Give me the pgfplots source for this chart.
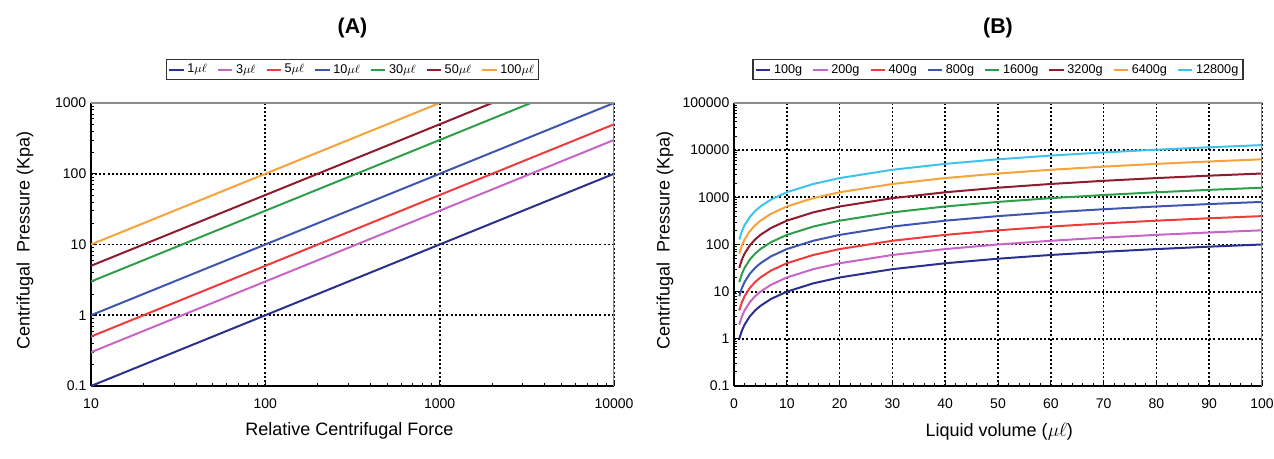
\documentclass[border=0pt]{standalone}
\usepackage{pgfplots}
\pgfplotsset{compat=1.18}
\usepackage{pgfplotstable}
\usepackage{fontspec}
\setmainfont{Liberation Sans}
\definecolor{cnavy}{HTML}{2B2F8E}
\definecolor{cpink}{HTML}{C964C7}
\definecolor{cred}{HTML}{EE3B3B}
\definecolor{cblue}{HTML}{3F56B0}
\definecolor{cgreen}{HTML}{2E9E4A}
\definecolor{cdred}{HTML}{8E1B2E}
\definecolor{corange}{HTML}{F7A23B}
\definecolor{ccyan}{HTML}{3EC3F0}

% panel B: pressure (kPa) against liquid volume, one column per g
\pgfplotstableread{
V    g100 g200 g400 g800 g1600 g3200 g6400 g12800
1    1    2    4    8    16    32    64    128
1.5  1.5  3    6    12   24    48    96    192
2    2    4    8    16   32    64    128   256
3    3    6    12   24   48    96    192   384
4    4    8    16   32   64    128   256   512
5    5    10   20   40   80    160   320   640
7    7    14   28   56   112   224   448   896
10   10   20   40   80   160   320   640   1280
15   15   30   60   120  240   480   960   1920
20   20   40   80   160  320   640   1280  2560
30   30   60   120  240  480   960   1920  3840
40   40   80   160  320  640   1280  2560  5120
50   50   100  200  400  800   1600  3200  6400
60   60   120  240  480  960   1920  3840  7680
70   70   140  280  560  1120  2240  4480  8960
80   80   160  320  640  1280  2560  5120  10240
90   90   180  360  720  1440  2880  5760  11520
100  100  200  400  800  1600  3200  6400  12800
}\tabB

\pgfplotsset{
  panel/.style={scale only axis, height=212.25pt,
    axis x line*=bottom, axis y line*=left,
    axis line style={black, line width=1.2pt},
    tick align=inside, major tick length=3pt, minor tick length=2.2pt,
    every tick/.style={black, line width=0.6pt},
    grid=major, major grid style={black, line width=1.3pt, dash pattern=on 1.5pt off 1.6pt},
    tick label style={font=\fontsize{10.5}{12}\selectfont},
    /pgf/number format/assume math mode=true,
    xticklabel style={yshift=-6pt},
    legend columns=-1,
    legend style={at={(0.5,1)}, anchor=south, yshift=17pt, draw=black!80, line width=0.9pt,
      font=\fontsize{9.5}{11}\selectfont, inner sep=1.5pt,
      /tikz/every even column/.append style={column sep=5.5pt}},
    every axis plot/.append style={line width=1.5pt}}
}

\begin{document}
\begin{tikzpicture}
\useasboundingbox (0,0) rectangle (955.5pt,343.5pt);

%% (A)
\begin{axis}[panel, at={(68.25pt,54pt)}, anchor=south west, width=392.25pt,
    xmode=log, ymode=log, xmin=10, xmax=10000, ymin=0.1, ymax=1000,
    xtick={10,100,1000,10000}, xticklabels={10,100,1000,10000},
    ytick={0.1,1,10,100,1000}, yticklabels={0.1,1,10,100,1000},
    minor xtick={20,30,40,50,60,70,80,90,200,300,400,500,600,700,800,900,2000,3000,4000,5000,6000,7000,8000,9000},
    minor ytick={0.2,0.3,0.4,0.5,0.6,0.7,0.8,0.9,2,3,4,5,6,7,8,9,20,30,40,50,60,70,80,90,200,300,400,500,600,700,800,900},
    legend image code/.code={\draw[#1, line width=1.5pt] (0cm,0cm) -- (0.38cm,0cm);}]
  \addplot[cnavy] coordinates {(10,0.1) (10000,100)};
  \addlegendentry{1$\mu\ell$}
  \addplot[cpink] coordinates {(10,0.3) (10000,300)};
  \addlegendentry{3$\mu\ell$}
  \addplot[cred] coordinates {(10,0.5) (10000,500)};
  \addlegendentry{5$\mu\ell$}
  \addplot[cblue] coordinates {(10,1) (10000,1000)};
  \addlegendentry{10$\mu\ell$}
  \addplot[cgreen] coordinates {(10,3) (3333,1000)};
  \addlegendentry{30$\mu\ell$}
  \addplot[cdred] coordinates {(10,5) (2000,1000)};
  \addlegendentry{50$\mu\ell$}
  \addplot[corange] coordinates {(10,10) (1000,1000)};
  \addlegendentry{100$\mu\ell$}
  \draw[black!45, line width=1.4pt] (rel axis cs:0,1) -- (rel axis cs:1,1) -- (rel axis cs:1,0);
\end{axis}

%% (B)
\begin{axis}[panel, at={(550.5pt,54pt)}, anchor=south west, width=396pt,
    ymode=log, xmin=0, xmax=100, ymin=0.1, ymax=100000,
    xtick={0,10,20,30,40,50,60,70,80,90,100}, xticklabels={0,10,20,30,40,50,60,70,80,90,100},
    minor x tick num=4,
    ytick={0.1,1,10,100,1000,10000,100000}, yticklabels={0.1,1,10,100,1000,10000,100000},
    minor ytick={0.2,0.3,0.4,0.5,0.6,0.7,0.8,0.9,2,3,4,5,6,7,8,9,20,30,40,50,60,70,80,90,200,300,400,500,600,700,800,900,2000,3000,4000,5000,6000,7000,8000,9000,20000,30000,40000,50000,60000,70000,80000,90000},
    legend image code/.code={\draw[#1, line width=1.5pt] (0cm,0cm) -- (0.38cm,0cm);}]
  \addplot[cnavy] table[x=V, y=g100] {\tabB};
  \addlegendentry{100g}
  \addplot[cpink] table[x=V, y=g200] {\tabB};
  \addlegendentry{200g}
  \addplot[cred] table[x=V, y=g400] {\tabB};
  \addlegendentry{400g}
  \addplot[cblue] table[x=V, y=g800] {\tabB};
  \addlegendentry{800g}
  \addplot[cgreen] table[x=V, y=g1600] {\tabB};
  \addlegendentry{1600g}
  \addplot[cdred] table[x=V, y=g3200] {\tabB};
  \addlegendentry{3200g}
  \addplot[corange] table[x=V, y=g6400] {\tabB};
  \addlegendentry{6400g}
  \addplot[ccyan] table[x=V, y=g12800] {\tabB};
  \addlegendentry{12800g}
  \draw[black!45, line width=1.4pt] (rel axis cs:0,1) -- (rel axis cs:1,1) -- (rel axis cs:1,0);
\end{axis}

% titles and axis labels
\node[font=\fontsize{16}{19}\selectfont\bfseries] at (264.4pt,322.5pt) {(A)};
\node[font=\fontsize{16}{19}\selectfont\bfseries] at (748.5pt,322.5pt) {(B)};
\node[font=\fontsize{13.5}{16}\selectfont] at (262pt,20pt) {Relative Centrifugal Force};
\node[font=\fontsize{13.5}{16}\selectfont] at (749.5pt,19.5pt) {Liquid volume ($\mu\ell$)};
\node[font=\fontsize{13.5}{16}\selectfont, rotate=90] at (18.75pt,163pt) {Centrifugal\ \ Pressure (Kpa)};
\node[font=\fontsize{13.5}{16}\selectfont, rotate=90] at (498.75pt,163pt) {Centrifugal\ \ Pressure (Kpa)};
\end{tikzpicture}
\end{document}
